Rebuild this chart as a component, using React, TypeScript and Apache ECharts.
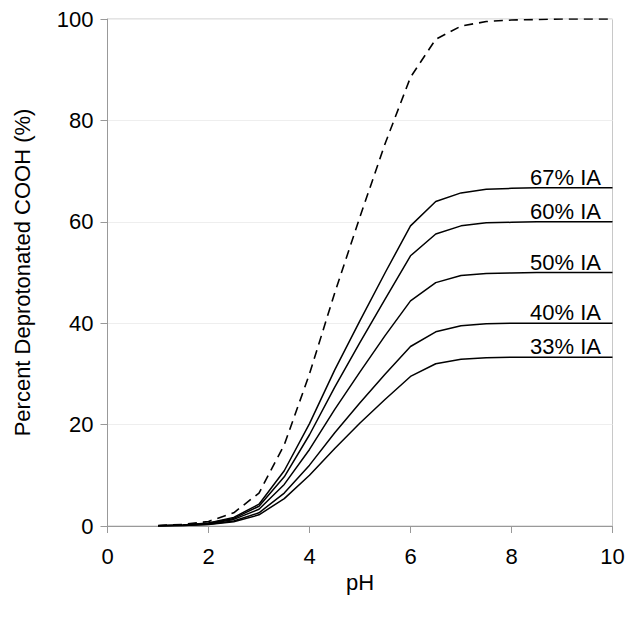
import React, { useEffect, useRef } from "react";
import * as echarts from "echarts";

const pH = [1, 1.5, 2, 2.5, 3, 3.5, 4, 4.5, 5, 5.5, 6, 6.5, 7, 7.5, 8, 8.5, 9, 9.5, 10];
const full100 = [0.1, 0.3, 0.9, 2.6, 6.5, 16, 30, 46, 61, 75.5, 88.5, 96, 98.6, 99.5, 99.8, 99.9, 100, 100, 100];
const ia67 = [0.07, 0.2, 0.6, 1.7, 4.3, 10.9, 20.2, 30.8, 40.5, 50, 59.2, 64, 65.7, 66.4, 66.6, 66.7, 66.7, 66.7, 66.7];
const ia60 = [0.06, 0.18, 0.54, 1.5, 3.9, 9.7, 18, 27.4, 36.2, 44.8, 53.3, 57.6, 59.2, 59.8, 59.9, 60, 60, 60, 60];
const ia50 = [0.05, 0.15, 0.45, 1.3, 3.3, 8.2, 15.1, 23, 30.4, 37.6, 44.4, 48, 49.4, 49.8, 49.9, 50, 50, 50, 50];
const ia40 = [0.04, 0.12, 0.36, 1.0, 2.6, 6.5, 12, 18.4, 24.3, 30, 35.4, 38.3, 39.5, 39.9, 40, 40, 40, 40, 40];
const ia33 = [0.03, 0.1, 0.3, 0.85, 2.2, 5.4, 10, 15.3, 20.3, 25, 29.5, 32, 32.9, 33.2, 33.3, 33.3, 33.3, 33.3, 33.3];

const solidSeries = [
  { name: "67% IA", values: ia67 },
  { name: "60% IA", values: ia60 },
  { name: "50% IA", values: ia50 },
  { name: "40% IA", values: ia40 },
  { name: "33% IA", values: ia33 },
];

const FONT = "'Liberation Sans', Arial, sans-serif";

export default function App() {
  const ref = useRef<HTMLDivElement>(null);
  useEffect(() => {
    if (!ref.current) return;
    const chart = echarts.init(ref.current, undefined, { renderer: "svg" });
    const mk = (vals: number[]) => vals.map((v, i) => [pH[i], v]);
    chart.setOption({
      animation: false,
      backgroundColor: "#fff",
      grid: { left: 107.5, right: 22.5, top: 19, bottom: 93, show: true, borderColor: "#c8c8c8", borderWidth: 1 },
      xAxis: {
        type: "value",
        min: 0,
        max: 10,
        interval: 2,
        name: "pH",
        nameLocation: "middle",
        nameGap: 39,
        nameTextStyle: { fontSize: 22, fontFamily: FONT, color: "#000" },
        axisLine: { lineStyle: { color: "#999", width: 1 } },
        axisTick: { show: true, length: 7, lineStyle: { color: "#999" } },
        axisLabel: { fontSize: 22, fontFamily: FONT, color: "#000", margin: 19 },
        splitLine: { show: false },
      },
      yAxis: {
        type: "value",
        min: 0,
        max: 100,
        interval: 20,
        name: "Percent Deprotonated COOH (%)",
        nameLocation: "middle",
        nameGap: 74,
        nameTextStyle: { fontSize: 22, fontFamily: FONT, color: "#000" },
        axisLine: { show: true, lineStyle: { color: "#999", width: 1 } },
        axisTick: { show: true, length: 7, lineStyle: { color: "#999" } },
        axisLabel: { fontSize: 22, fontFamily: FONT, color: "#000", margin: 14 },
        splitLine: { show: true, lineStyle: { color: "#eeeeee", width: 1 } },
      },
      series: [
        {
          type: "line",
          name: "100%",
          data: mk(full100),
          symbol: "none",
          lineStyle: { color: "#000", width: 1.6, type: [9, 6] },
          z: 3,
        },
        ...solidSeries.map((s) => ({
          type: "line",
          name: s.name,
          data: mk(s.values),
          symbol: "circle",
          symbolSize: 1,
          showSymbol: true,
          showAllSymbol: true,
          itemStyle: { color: "transparent", borderWidth: 0 },
          lineStyle: { color: "#000", width: 1.5 },
          label: {
            show: true,
            formatter: (p: any) => (p.dataIndex === s.values.length - 1 ? s.name : ""),
            position: [-11, 1],
            align: "right",
            verticalAlign: "bottom",
            fontSize: 22,
            fontFamily: FONT,
            color: "#000",
          },
          labelLayout: { hideOverlap: false },
          z: 3,
        })),
      ],
    });
    return () => chart.dispose();
  }, []);
  return <div ref={ref} style={{ width: 635, height: 619, position: "absolute", left: 0, top: 0 }} />;
}
